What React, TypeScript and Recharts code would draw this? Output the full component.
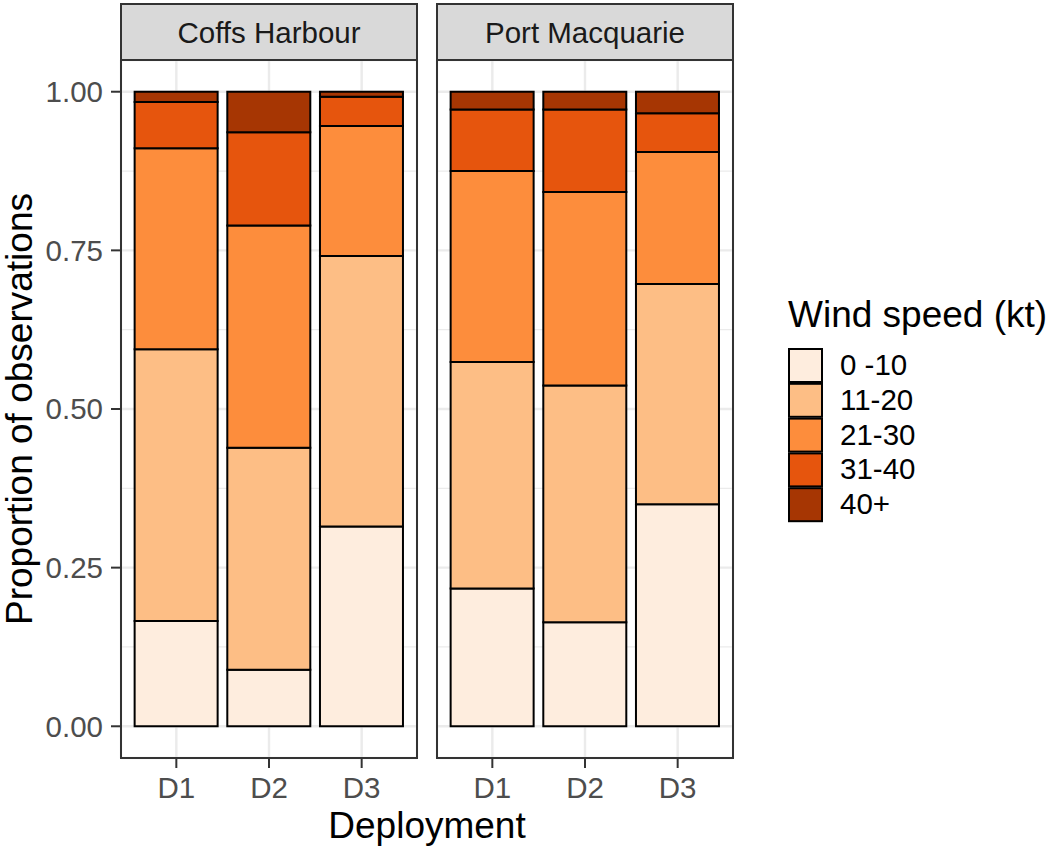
import { Bar, BarChart, CartesianGrid, XAxis, YAxis } from 'recharts';

const deployments = ['D1', 'D2', 'D3'];
const speedClasses = ['0 -10', '11-20', '21-30', '31-40', '40+'];
const speedColors = ['#FEEDDE', '#FDBE85', '#FD8D3C', '#E6550D', '#A63603'];

// proportion of observations in each wind speed class, per deployment
const coffsD1 = [0.166, 0.428, 0.317, 0.073, 0.016];
const coffsD2 = [0.089, 0.35, 0.35, 0.147, 0.064];
const coffsD3 = [0.315, 0.426, 0.205, 0.046, 0.008];
const portD1 = [0.217, 0.357, 0.301, 0.097, 0.028];
const portD2 = [0.164, 0.373, 0.305, 0.13, 0.028];
const portD3 = [0.35, 0.347, 0.208, 0.061, 0.034];

const yTicks = [0, 0.25, 0.5, 0.75, 1];
const yMinor = [0.125, 0.375, 0.625, 0.875];

const toRows = (cols: number[][]) =>
  deployments.map((d, i) => {
    const row: Record<string, string | number> = { deployment: d };
    speedClasses.forEach((s, j) => {
      row[s] = cols[i][j];
    });
    return row;
  });

const coffsRows = toRows([coffsD1, coffsD2, coffsD3]);
const portRows = toRows([portD1, portD2, portD3]);

const FONT = '"Liberation Sans", Arial, sans-serif';
const SMALL = 29.5;
const TITLE = 37;

function Panel({ data, showY, width, left }: { data: any[]; showY: boolean; width: number; left: number }) {
  return (
    <div style={{ position: 'absolute', left, top: 0 }}>
      <BarChart
        width={width}
        height={851}
        data={data}
        margin={{ top: 60, right: 4, left: showY ? 0 : 4, bottom: 0 }}
        barCategoryGap="5%"
      >
        <CartesianGrid stroke="#EBEBEB" strokeWidth={1.2} horizontalValues={yMinor} vertical={false} />
        <CartesianGrid stroke="#EBEBEB" strokeWidth={2.4} />
        <XAxis
          dataKey="deployment"
          height={93}
          padding={{ left: 9, right: 9 }}
          axisLine={false}
          tickLine={{ stroke: '#333333', strokeWidth: 2 }}
          tickSize={10}
          tickMargin={9}
          tick={{ fill: '#4D4D4D', fontSize: SMALL }}
        />
        <YAxis
          hide={!showY}
          width={121}
          type="number"
          domain={[-0.05, 1.05]}
          allowDataOverflow
          ticks={yTicks}
          axisLine={false}
          tickLine={{ stroke: '#333333', strokeWidth: 2 }}
          tickSize={10}
          tickMargin={8}
          tick={{ fill: '#4D4D4D', fontSize: SMALL }}
          tickFormatter={(v: number) => v.toFixed(2)}
        />
        {speedClasses.map((s, i) => (
          <Bar
            key={s}
            dataKey={s}
            stackId="w"
            fill={speedColors[i]}
            stroke="#000000"
            strokeWidth={2}
            isAnimationActive={false}
          />
        ))}
      </BarChart>
    </div>
  );
}

export default function App() {
  return (
    <div
      style={{
        position: 'absolute',
        left: 0,
        top: 0,
        width: 1052,
        height: 851,
        background: '#fff',
        fontFamily: FONT,
        overflow: 'hidden',
      }}
    >
      <Panel data={coffsRows} showY width={421} left={0} />
      <Panel data={portRows} showY={false} width={304} left={433} />
      <svg
        width={1052}
        height={851}
        style={{ position: 'absolute', left: 0, top: 0, pointerEvents: 'none' }}
        fontFamily={FONT}
      >
        {/* panel frames and strips */}
        {[
          { x: 121, label: 'Coffs Harbour' },
          { x: 437, label: 'Port Macquarie' },
        ].map((p) => (
          <g key={p.label}>
            <rect x={p.x} y={4} width={296} height={56} fill="#D9D9D9" stroke="#333333" strokeWidth={2} />
            <text x={p.x + 148} y={43} fontSize={SMALL} fill="#1A1A1A" textAnchor="middle">
              {p.label}
            </text>
            <rect x={p.x} y={60} width={296} height={698} fill="none" stroke="#333333" strokeWidth={2} />
          </g>
        ))}
        <text x={427} y={838} fontSize={TITLE} fill="#000" textAnchor="middle">
          Deployment
        </text>
        <text transform="translate(32,409) rotate(-90)" fontSize={TITLE} fill="#000" textAnchor="middle">
          Proportion of observations
        </text>
        {/* legend */}
        <text x={788} y={327} fontSize={TITLE} fill="#000">
          Wind speed (kt)
        </text>
        {speedClasses.map((s, i) => (
          <g key={s}>
            <rect
              x={789}
              y={349 + i * 34.8}
              width={33}
              height={33}
              fill={speedColors[i]}
              stroke="#000"
              strokeWidth={2}
            />
            <text x={840} y={375 + i * 34.8} fontSize={SMALL} fill="#000">
              {s}
            </text>
          </g>
        ))}
      </svg>
    </div>
  );
}
